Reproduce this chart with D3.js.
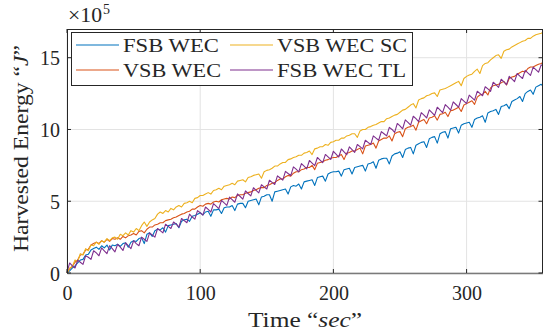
<!DOCTYPE html>
<html>
<head>
<meta charset="utf-8">
<script src="https://cdn.jsdelivr.net/npm/d3@7"></script>
<style>
  body { margin: 0; background: #fff; }
  svg text { font-family: "Liberation Serif", "DejaVu Serif", serif; fill: #262626; }
</style>
</head>
<body>
<div class="chart"></div>
<script>
// sample spacing in seconds
const dt = 2;

// energy in units of 1e5 J, one value every 2 s from t = 0
const fsbWec = [
  0.00, 0.15, 0.35, 0.50, 0.70, 0.90, 0.95, 1.25, 1.30, 1.60,
  1.70, 1.80, 1.65, 1.90, 1.75, 1.95, 1.60, 1.95, 1.90, 2.00,
  1.85, 2.05, 2.10, 1.80, 2.15, 2.25, 2.20, 2.40, 2.45, 2.05,
  2.70, 2.80, 2.55, 2.95, 3.05, 3.00, 3.15, 2.85, 3.30, 3.35,
  3.40, 3.45, 3.15, 3.60, 3.70, 3.75, 3.60, 3.95, 4.00, 4.10,
  4.20, 4.05, 4.25, 4.30, 3.95, 4.40, 4.40, 4.45, 4.15, 4.55,
  4.60, 4.60, 4.70, 4.35, 4.80, 4.85, 4.85, 4.55, 5.00, 5.05,
  5.10, 5.15, 4.75, 5.30, 5.35, 5.45, 5.45, 5.00, 5.65, 5.70,
  5.75, 5.80, 5.85, 5.50, 6.00, 6.10, 6.05, 6.20, 5.85, 6.35,
  6.40, 6.45, 6.50, 6.10, 6.65, 6.70, 6.75, 6.40, 6.90, 7.00,
  7.05, 7.05, 7.10, 6.75, 7.20, 7.25, 7.30, 6.90, 7.35, 7.40,
  7.45, 7.50, 7.10, 7.60, 7.65, 7.75, 7.30, 7.85, 7.95, 8.00,
  8.00, 7.60, 8.15, 8.30, 8.35, 8.45, 8.05, 8.60, 8.70, 8.75,
  8.30, 8.90, 9.00, 9.10, 9.15, 8.75, 9.35, 9.45, 9.50, 9.05,
  9.70, 9.80, 9.85, 9.40, 10.05, 10.10, 10.15, 9.75, 10.30, 10.40,
  10.45, 10.50, 10.15, 10.70, 10.80, 10.85, 10.95, 10.50, 11.15, 11.25,
  11.30, 11.40, 11.05, 11.60, 11.65, 11.75, 11.45, 11.95, 12.05, 12.15,
  12.30, 11.95, 12.50, 12.65, 12.75, 12.45, 12.95, 13.05, 13.15, 12.95
];

const vsbWec = [
  0.00, 0.30, 0.45, 0.75, 0.90, 1.25, 1.30, 1.60, 1.65, 1.95,
  2.05, 2.15, 2.05, 2.25, 2.15, 2.35, 2.20, 2.40, 2.35, 2.45,
  2.35, 2.55, 2.45, 2.60, 2.65, 2.75, 2.65, 2.90, 2.95, 2.80,
  3.05, 3.20, 3.20, 3.35, 3.40, 3.50, 3.50, 3.65, 3.70, 3.75,
  3.85, 3.90, 4.00, 4.10, 4.15, 4.25, 4.30, 4.45, 4.45, 4.60,
  4.70, 4.65, 4.80, 4.85, 4.80, 4.95, 5.00, 4.95, 5.10, 5.15,
  5.20, 5.15, 5.30, 5.25, 5.40, 5.45, 5.45, 5.55, 5.60, 5.65,
  5.75, 5.80, 5.90, 5.95, 5.95, 6.10, 6.15, 6.25, 6.30, 6.45,
  6.55, 6.55, 6.70, 6.80, 6.75, 6.95, 7.05, 7.05, 7.20, 7.25,
  7.35, 7.35, 7.50, 7.20, 7.65, 7.70, 7.75, 7.85, 7.90, 8.00,
  8.05, 8.05, 8.15, 8.25, 7.90, 8.35, 8.40, 8.50, 8.50, 8.60,
  8.70, 8.30, 8.85, 8.90, 8.95, 9.05, 8.70, 9.20, 9.30, 9.40,
  9.40, 9.55, 9.20, 9.70, 9.80, 9.85, 9.50, 10.05, 10.15, 10.20,
  10.30, 9.95, 10.50, 10.60, 10.70, 10.40, 10.80, 10.85, 10.95, 10.65,
  11.05, 11.10, 11.20, 10.90, 11.30, 11.35, 11.45, 11.55, 11.25, 11.70,
  11.80, 11.90, 12.00, 11.75, 12.25, 12.40, 12.45, 12.65, 12.40, 12.90,
  13.05, 13.10, 13.15, 13.25, 13.35, 13.10, 13.55, 13.65, 13.70, 13.85,
  13.95, 14.05, 14.00, 14.25, 14.35, 14.35, 14.45, 14.55, 14.60, 14.70
];

const vsbWecSc = [
  0.00, 0.35, 0.45, 0.90, 0.80, 1.35, 1.25, 1.70, 1.55, 1.95,
  1.90, 2.15, 2.00, 2.25, 2.15, 2.40, 2.25, 2.45, 2.50, 2.35,
  2.70, 2.60, 2.80, 2.65, 2.95, 2.85, 3.10, 2.95, 3.30, 3.55,
  3.25, 3.55, 3.70, 3.80, 4.10, 4.25, 4.15, 4.35, 4.25, 4.50,
  4.40, 4.60, 4.70, 4.60, 4.85, 4.90, 5.00, 4.90, 5.20, 5.25,
  5.40, 5.40, 5.50, 5.60, 5.50, 5.75, 5.80, 5.90, 5.80, 6.05,
  6.10, 6.15, 6.25, 6.15, 6.40, 6.45, 6.50, 6.35, 6.65, 6.70,
  6.80, 6.85, 6.90, 6.60, 7.05, 7.15, 7.20, 7.30, 7.45, 7.45,
  7.60, 7.70, 7.70, 7.90, 7.95, 8.05, 8.10, 8.20, 8.20, 8.35,
  8.40, 8.50, 8.25, 8.65, 8.70, 8.80, 8.80, 8.95, 8.90, 9.10,
  9.15, 9.25, 9.25, 9.40, 9.40, 9.55, 9.60, 9.70, 9.70, 9.45,
  9.90, 10.00, 10.00, 10.15, 10.20, 10.30, 10.35, 10.45, 10.55, 10.55,
  10.75, 10.80, 10.90, 11.00, 11.05, 11.20, 11.35, 11.40, 11.55, 11.70,
  11.80, 11.50, 12.05, 12.15, 12.20, 12.35, 12.40, 12.50, 12.55, 12.30,
  12.75, 12.80, 12.85, 12.95, 13.05, 13.15, 13.25, 13.35, 13.05, 13.55,
  13.70, 13.80, 13.85, 14.05, 14.20, 13.90, 14.45, 14.60, 14.65, 14.85,
  15.00, 15.15, 15.20, 14.95, 15.45, 15.55, 15.60, 15.75, 15.85, 15.95,
  16.05, 16.15, 16.20, 16.35, 16.35, 16.50, 16.60, 16.65, 16.70, 16.80
];

const fsbWecTl = [
  0.05, 0.70, 0.50, 0.35, 0.90, 0.75, 0.60, 1.20, 1.10, 0.95,
  1.55, 1.40, 1.20, 1.75, 1.55, 1.35, 1.90, 1.70, 1.47, 2.00,
  1.80, 1.57, 2.10, 1.90, 1.70, 2.25, 2.05, 1.90, 2.50, 2.35,
  2.20, 2.80, 2.65, 2.50, 3.10, 2.95, 2.80, 3.40, 3.25, 3.10,
  3.55, 3.40, 3.20, 3.80, 3.65, 3.50, 4.10, 3.90, 3.75, 4.35,
  4.20, 4.03, 4.60, 4.43, 4.25, 4.83, 4.66, 4.48, 5.06, 4.88,
  4.71, 5.29, 5.11, 4.93, 5.51, 5.33, 5.15, 5.72, 5.54, 5.37,
  5.94, 5.76, 5.58, 6.15, 6.00, 5.85, 6.46, 6.31, 6.17, 6.77,
  6.62, 6.47, 7.08, 6.93, 6.79, 7.39, 7.24, 7.05, 7.62, 7.44,
  7.26, 7.84, 7.66, 7.48, 8.05, 7.87, 7.69, 8.26, 8.09, 7.91,
  8.48, 8.28, 8.08, 8.64, 8.44, 8.24, 8.79, 8.60, 8.40, 8.95,
  8.80, 8.65, 9.25, 9.10, 8.95, 9.55, 9.40, 9.25, 9.85, 9.70,
  9.55, 10.15, 10.00, 9.80, 10.42, 10.25, 10.05, 10.67, 10.50, 10.30,
  10.92, 10.75, 10.55, 11.17, 11.00, 10.80, 11.37, 11.18, 10.98, 11.55,
  11.36, 11.17, 11.73, 11.55, 11.35, 11.92, 11.74, 11.55, 12.15, 11.98,
  11.80, 12.39, 12.22, 12.05, 12.66, 12.51, 12.35, 12.98, 12.83, 12.65,
  13.29, 13.12, 12.93, 13.50, 13.32, 13.13, 13.70, 13.52, 13.33, 13.90,
  13.72, 13.55, 14.12, 13.94, 13.77, 14.34, 14.17, 13.99, 14.50, 14.40
];

const seriesNames = ["FSB WEC", "VSB WEC", "VSB WEC SC", "FSB WEC TL"];
const seriesValues = [fsbWec, vsbWec, vsbWecSc, fsbWecTl];
const colors = ["#0072BD", "#D95319", "#EDB120", "#7E2F8E"];

const xTicks = [0, 100, 200, 300];
const yTicks = [0, 5, 10, 15];

const svgWidth = 543, svgHeight = 334;
const margin = { top: 29, right: 0.5, bottom: 61, left: 67 };
const width = svgWidth - margin.left - margin.right;
const height = svgHeight - margin.top - margin.bottom;
const fontFam = "Liberation Serif, DejaVu Serif, serif";

const svg = d3.select(".chart").append("svg")
  .attr("width", svgWidth)
  .attr("height", svgHeight);

const g = svg.append("g")
  .attr("transform", `translate(${margin.left}, ${margin.top})`);

const x = d3.scaleLinear().domain([0, 357]).range([0, width]);
const y = d3.scaleLinear().domain([0, 17]).range([height, 0]);

// grid
g.selectAll(".gx").data(xTicks).enter().append("line")
  .attr("x1", d => x(d)).attr("x2", d => x(d))
  .attr("y1", 0).attr("y2", height)
  .attr("stroke", "#e3e3e3").attr("stroke-width", 1);
g.selectAll(".gy").data(yTicks).enter().append("line")
  .attr("x1", 0).attr("x2", width)
  .attr("y1", d => y(d)).attr("y2", d => y(d))
  .attr("stroke", "#e3e3e3").attr("stroke-width", 1);

// lines
const line = d3.line()
  .x((d, i) => x(i * dt))
  .y(d => y(d));

seriesValues.forEach((vals, k) => {
  g.append("path")
    .datum(vals)
    .attr("fill", "none")
    .attr("stroke", colors[k])
    .attr("stroke-width", 1.1)
    .attr("stroke-linejoin", "round")
    .attr("d", line);
});

// box and axes (MATLAB style, ticks pointing in)
const tickLen = 4;
const bottomAxis = d3.axisBottom(x).tickValues(xTicks).tickSize(0).tickPadding(13);
const leftAxis = d3.axisLeft(y).tickValues(yTicks).tickSize(0).tickPadding(7);

const gx = g.append("g").attr("transform", `translate(0, ${height})`).call(bottomAxis)
  .attr("font-family", fontFam).attr("font-size", 20);
gx.select(".domain").attr("stroke", "#7a7a7a").attr("stroke-width", 1.6);
gx.selectAll("text").attr("fill", "#262626");

const gy = g.append("g").call(leftAxis)
  .attr("font-family", fontFam).attr("font-size", 20);
gy.select(".domain").attr("stroke", "#262626");
gy.selectAll("text").attr("fill", "#262626").attr("dy", "0.35em");

g.append("line").attr("x1", 0).attr("x2", width).attr("y1", 0.5).attr("y2", 0.5)
  .attr("stroke", "#262626");
g.append("line").attr("x1", width).attr("x2", width).attr("y1", 0).attr("y2", height)
  .attr("stroke", "#262626");

xTicks.forEach(t => {
  g.append("line").attr("x1", x(t)).attr("x2", x(t)).attr("y1", height).attr("y2", height - tickLen)
    .attr("stroke", "#262626");
  g.append("line").attr("x1", x(t)).attr("x2", x(t)).attr("y1", 0).attr("y2", tickLen)
    .attr("stroke", "#262626");
});
yTicks.forEach(t => {
  g.append("line").attr("x1", 0).attr("x2", tickLen).attr("y1", y(t)).attr("y2", y(t))
    .attr("stroke", "#262626");
  g.append("line").attr("x1", width).attr("x2", width - tickLen).attr("y1", y(t)).attr("y2", y(t))
    .attr("stroke", "#262626");
});

// exponent label
svg.append("text").attr("x", 68).attr("y", 22).attr("font-size", 20)
  .attr("textLength", 34).attr("lengthAdjust", "spacingAndGlyphs").text("×10");
svg.append("text").attr("x", 103).attr("y", 14).attr("font-size", 14).text("5");

// axis titles
const xt = svg.append("text")
  .attr("x", 248).attr("y", 327)
  .attr("font-size", 20)
  .attr("textLength", 114).attr("lengthAdjust", "spacingAndGlyphs");
xt.append("tspan").text("Time “");
xt.append("tspan").attr("font-style", "italic").text("sec");
xt.append("tspan").text("”");

const yt = svg.append("text")
  .attr("transform", "translate(28, 252) rotate(-90)")
  .attr("font-size", 20)
  .attr("textLength", 207).attr("lengthAdjust", "spacingAndGlyphs");
yt.append("tspan").text("Harvested Energy “");
yt.append("tspan").attr("font-style", "italic").text("J");
yt.append("tspan").text("”");

// legend
const legend = svg.append("g");
legend.append("rect")
  .attr("x", 71.5).attr("y", 32.5).attr("width", 341).attr("height", 53)
  .attr("fill", "#fff").attr("stroke", "#262626").attr("stroke-width", 1);

const legPos = [[76, 45], [76, 70], [230, 45], [230, 70]];
const legWidths = [96, 98, 130, 129];
seriesNames.forEach((name, k) => {
  const [lx, ly] = legPos[k];
  legend.append("line")
    .attr("x1", lx).attr("x2", lx + 43).attr("y1", ly).attr("y2", ly)
    .attr("stroke", colors[k]).attr("stroke-width", 1.1);
  legend.append("text")
    .attr("x", lx + 47).attr("y", ly).attr("dy", "0.35em")
    .attr("font-size", 19)
    .attr("textLength", legWidths[k]).attr("lengthAdjust", "spacingAndGlyphs")
    .text(name);
});
</script>
</body>
</html>
